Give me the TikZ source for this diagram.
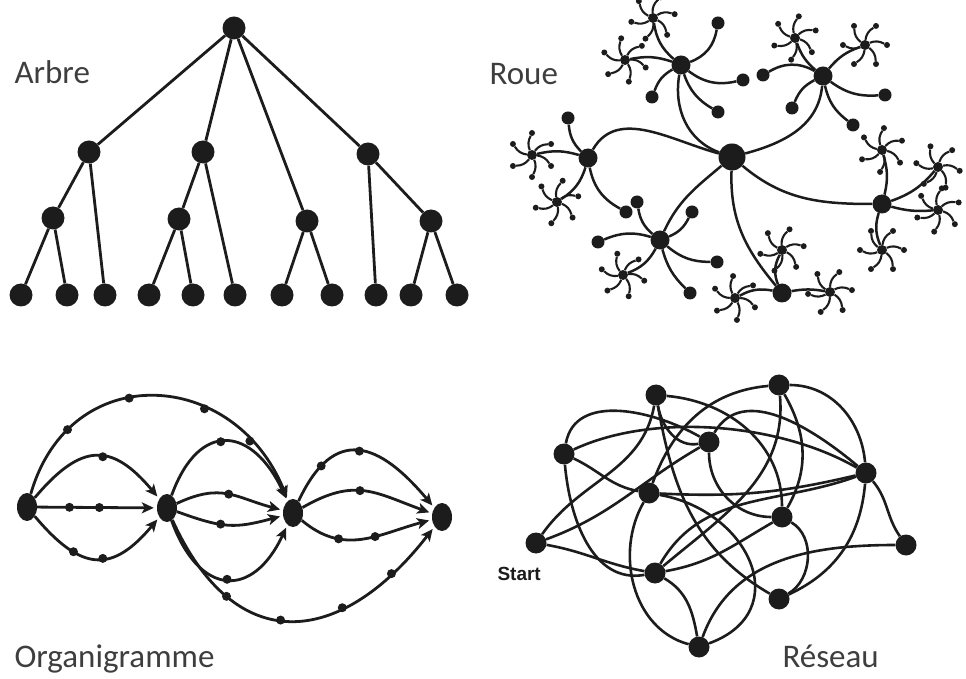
\documentclass[tikz,border=0pt]{standalone}
\usepackage{fontspec}
\setmainfont{Carlito}
\newfontfamily\startfont{Liberation Sans}
\usetikzlibrary{arrows.meta,calc,shapes.geometric}
\definecolor{ink}{HTML}{1C1C1C}
\newcommand\rstar[3]{%
  \node[sdot] (#1) at (#2) {};
  \foreach \k [evaluate=\k as \ang using #3+\k*60] in {0,...,5}{
    \node[tdot] (#1-\k) at ($(#1)+(\ang:22)$) {};
    \draw[rarm] (#1) to[bend left=25] (#1-\k);
  }}
\begin{document}
\begin{tikzpicture}[x=1pt,y=1pt,
  tedge/.style={draw=ink,line width=2.8pt},
  tnode/.style={circle,fill=ink,inner sep=0pt,minimum size=23pt},
  whub/.style={circle,fill=ink,inner sep=0pt,minimum size=27pt},
  hub/.style={circle,fill=ink,inner sep=0pt,minimum size=19pt},
  leaf/.style={circle,fill=ink,inner sep=0pt,minimum size=13pt},
  sdot/.style={circle,fill=ink,inner sep=0pt,minimum size=10pt},
  tdot/.style={circle,fill=ink,inner sep=0pt,minimum size=6pt},
  rarm/.style={draw=ink,line width=2.1pt},
  redge/.style={draw=ink,line width=2.5pt},
  onode/.style={ellipse,fill=ink,inner sep=0pt,minimum width=20pt,minimum height=28pt},
  odot/.style={circle,fill=ink,inner sep=0pt,minimum size=9pt},
  oarr/.style={draw=ink,line width=2.8pt,-{Stealth[length=12pt,width=11pt,inset=3pt]},shorten >=3pt},
  nnode/.style={circle,fill=ink,inner sep=0pt,minimum size=21pt},
  nedge/.style={draw=ink,line width=2.6pt},
  title/.style={anchor=base west,text=ink!85,font=\fontsize{33}{33}\selectfont}
]
\useasboundingbox (0,0) rectangle (966,678);

% ---------------- Arbre ----------------
\node[tnode] (tr) at (234,650) {};
\node[tnode] (ta) at (89,526) {};
\node[tnode] (tb) at (203,526) {};
\node[tnode] (tc) at (368,524) {};
\node[tnode] (tA) at (53,460) {};
\node[tnode] (tB) at (179,459) {};
\node[tnode] (tC) at (307,457) {};
\node[tnode] (tD) at (431,457) {};
\foreach \i/\x in {1/21,2/67,3/105,4/149,5/193,6/235,7/282,8/332,9/376,10/411,11/457}
  \node[tnode] (tl\i) at (\x,383) {};
\draw[tedge] (tr) -- (ta);
\draw[tedge] (tr) -- (tb);
\draw[tedge] (tr) -- (tC);
\draw[tedge] (tr) -- (tc);
\draw[tedge] (ta) -- (tA);
\draw[tedge] (ta) -- (tl3);
\draw[tedge] (tA) -- (tl1);
\draw[tedge] (tA) -- (tl2);
\draw[tedge] (tb) -- (tB);
\draw[tedge] (tb) -- (tl6);
\draw[tedge] (tB) -- (tl4);
\draw[tedge] (tB) -- (tl5);
\draw[tedge] (tC) -- (tl7);
\draw[tedge] (tC) -- (tl8);
\draw[tedge] (tc) -- (tl9);
\draw[tedge] (tc) -- (tD);
\draw[tedge] (tD) -- (tl10);
\draw[tedge] (tD) -- (tl11);
\node[title] (tArbre) at (11,594) {Arbre};

% ---------------- Roue ----------------
\node[whub] (w0) at (732,521) {};
\node[hub] (hA) at (681,613) {};
\node[hub] (hB) at (823,602) {};
\node[hub] (hC) at (588,520) {};
\node[hub] (hD) at (660,438) {};
\node[hub] (hE) at (782,385) {};
\node[hub] (hF) at (882,474) {};
\draw[redge] (hA) to[out=-100,in=160] (w0);
\draw[redge] (w0) to[out=15,in=-95] (hB);
\draw[redge] (hC) to[out=60,in=165] (w0);
\draw[redge] (w0) to[out=-140,in=65] (hD);
\draw[redge] (w0) to[out=-92,in=130] (hE);
\draw[redge] (w0) to[out=-40,in=180] (hF);
% leaves
\node[leaf] (la1) at (718,655) {};
\node[leaf] (la2) at (743,598) {};
\node[leaf] (la3) at (718,566) {};
\node[leaf] (la4) at (652,581) {};
\node[leaf] (lb1) at (763,603) {};
\node[leaf] (lb2) at (792,570) {};
\node[leaf] (lb3) at (853,553) {};
\node[leaf] (lb4) at (885,583) {};
\node[leaf] (lc1) at (568,560) {};
\node[leaf] (lc2) at (626,466) {};
\node[leaf] (ld1) at (637,476) {};
\node[leaf] (ld2) at (692,466) {};
\node[leaf] (ld3) at (598,436) {};
\node[leaf] (ld4) at (717,416) {};
\node[leaf] (ld5) at (690,385) {};
\draw[redge] (hA) to[bend right=30] (la1);
\draw[redge] (hA) to[bend right=25] (la2);
\draw[redge] (hA) to[bend right=20] (la3);
\draw[redge] (hA) to[bend right=20] (la4);
\draw[redge] (hB) to[bend right=30] (lb1);
\draw[redge] (hB) to[bend right=20] (lb2);
\draw[redge] (hB) to[bend right=20] (lb3);
\draw[redge] (hB) to[bend right=20] (lb4);
\draw[redge] (hC) to[bend left=20] (lc1);
\draw[redge] (hC) to[bend right=25] (lc2);
\draw[redge] (hD) to[bend left=20] (ld1);
\draw[redge] (hD) to[bend right=20] (ld2);
\draw[redge] (hD) to[bend right=20] (ld3);
\draw[redge] (hD) to[bend right=20] (ld4);
\draw[redge] (hD) to[bend right=15] (ld5);
% small stars
\rstar{s1}{653,660}{10}
\rstar{s2}{625,618}{40}
\rstar{s3}{795,640}{20}
\rstar{s4}{865,633}{0}
\rstar{s5}{532,523}{30}
\rstar{s6}{557,476}{15}
\rstar{s7}{623,403}{45}
\rstar{s8}{782,428}{10}
\rstar{s9}{735,380}{35}
\rstar{s10}{830,386}{5}
\rstar{s11}{882,528}{25}
\rstar{s12}{938,511}{50}
\rstar{s13}{938,468}{20}
\rstar{s14}{882,428}{0}
\draw[redge] (hA) to[bend left=20] (s1);
\draw[redge] (hA) to[bend right=15] (s2);
\draw[redge] (hB) to[bend left=15] (s3);
\draw[redge] (hB) to[bend left=15] (s4);
\draw[redge] (hC) to[bend right=15] (s5);
\draw[redge] (hC) to[bend left=20] (s6);
\draw[redge] (hD) to[bend left=20] (s7);
\draw[redge] (hE) to[bend left=25] (s8);
\draw[redge] (hE) to[bend right=20] (s9);
\draw[redge] (hE) to[bend left=10] (s10);
\draw[redge] (hF) to[bend right=15] (s11);
\draw[redge] (hF) to[bend right=15] (s12);
\draw[redge] (hF) to[bend right=10] (s13);
\draw[redge] (hF) to[bend right=20] (s14);
\node[title] (tRoue) at (486,593) {Roue};

% ---------------- Organigramme ----------------
\node[onode] (o1) at (27,171) {};
\node[onode] (o2) at (167,170) {};
\node[onode] (o3) at (293,165) {};
\node[onode] (o4) at (442,161) {};
\draw[oarr] (o1) -- node[pos=.27,odot]{} node[pos=.52,odot]{} (o2);
\draw[oarr] (o1) to[out=50,in=130,looseness=1.5] node[pos=.55,odot]{} (o2);
\draw[oarr] (o1) to[out=-50,in=-130,looseness=1.5] node[pos=.3,odot]{} node[pos=.55,odot]{} (o2);
\draw[oarr] (o1) .. controls (70,320) and (235,310) .. (o3)
  node[pos=.2,odot]{} node[pos=.42,odot]{} node[pos=.66,odot]{} node[pos=.82,odot]{};
\draw[oarr] (o2) to[out=70,in=115,looseness=1.8] node[pos=.45,odot]{} (o3);
\draw[oarr] (o2) to[out=25,in=165,looseness=1.2] node[pos=.5,odot]{} (o3);
\draw[oarr] (o2) to[out=-20,in=-165,looseness=1.2] node[pos=.4,odot]{} (o3);
\draw[oarr] (o2) to[out=-70,in=-115,looseness=1.8] node[pos=.5,odot]{} (o3);
\draw[oarr] (o3) to[out=65,in=130,looseness=1.6] node[pos=.2,odot]{} node[pos=.5,odot]{} (o4);
\draw[oarr] (o3) to[out=30,in=160,looseness=1.2] node[pos=.45,odot]{} (o4);
\draw[oarr] (o3) to[out=-40,in=-165,looseness=1.1] node[pos=.3,odot]{} node[pos=.6,odot]{} (o4);
\draw[oarr] (o2) .. controls (235,20) and (340,30) .. (o4)
  node[pos=.25,odot]{} node[pos=.46,odot]{} node[pos=.68,odot]{} node[pos=.85,odot]{};
\node[title] (tOrg) at (11,11) {Organigramme};

% ---------------- Reseau ----------------
\node[nnode] (n1) at (656,283) {};
\node[nnode] (n2) at (779,293) {};
\node[nnode] (n3) at (564,224) {};
\node[nnode] (n4) at (709,236) {};
\node[nnode] (n5) at (866,205) {};
\node[nnode] (n6) at (649,185) {};
\node[nnode] (n7) at (782,161) {};
\node[nnode] (ns) at (536,135) {};
\node[nnode] (n9) at (906,133) {};
\node[nnode] (n10) at (655,105) {};
\node[nnode] (n11) at (779,79) {};
\node[nnode] (n12) at (699,31) {};
\draw[nedge] (ns) to[out=55,in=-100] (n1);
\draw[nedge] (ns) to[out=20,in=-150] (n4);
\draw[nedge] (ns) to[out=-10,in=170] (n10);
\draw[nedge] (n3) to[out=80,in=150] (n4);
\draw[nedge] (n3) to[out=-25,in=170] (n6);
\draw[nedge] (n3) to[out=25,in=150,looseness=0.8] (n5);
\draw[nedge] (n3) to[out=-85,in=-170] (n10);
\draw[nedge] (n1) to[out=-80,in=-170] (n4);
\draw[nedge] (n1) to[out=-5,in=90] (n7);
\draw[nedge] (n1) to[out=-80,in=150] (n11);
\draw[nedge] (n2) to[out=185,in=70] (n6);
\draw[nedge] (n2) to[out=-85,in=40] (n10);
\draw[nedge] (n2) to[out=-60,in=60] (n7);
\draw[nedge] (n2) to[out=0,in=95] (n5);
\draw[nedge] (n4) to[out=-90,in=180] (n7);
\draw[nedge] (n4) to[out=60,in=140] (n5);
\draw[nedge] (n5) to[out=-50,in=125] (n9);
\draw[nedge] (n5) to[out=-95,in=25] (n11);
\draw[nedge] (n5) to[bend left=8] (n6);
\draw[nedge] (n5) to[out=200,in=60] (n10);
\draw[nedge] (n7) to[out=-30,in=30] (n11);
\draw[nedge] (n7) to[out=-150,in=10] (n10);
\draw[nedge] (n9) to[out=180,in=70] (n12);
\draw[nedge] (n6) to[out=-10,in=20,looseness=1.5] (n12);
\draw[nedge] (n6) to[out=-120,in=165] (n12);
\draw[nedge] (n10) to[out=-30,in=100] (n12);
\node[anchor=base west,text=ink,font=\startfont\bfseries\fontsize{19}{19}\selectfont] (tStart) at (494,98) {Start};
\node[title] (tRes) at (779,11) {Réseau};
\end{tikzpicture}
\end{document}
